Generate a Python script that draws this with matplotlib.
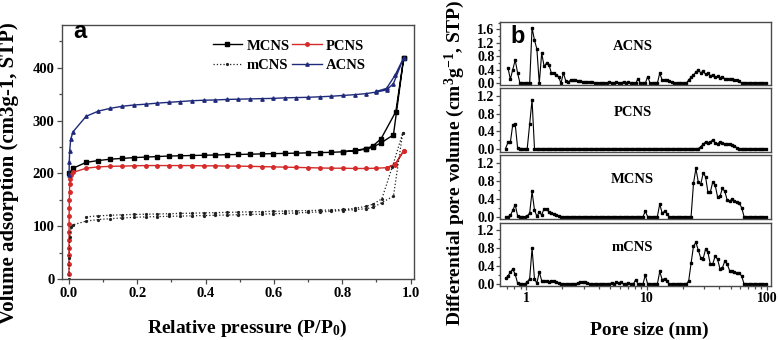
import numpy as np
import matplotlib
matplotlib.use("Agg")
import matplotlib.pyplot as plt
from matplotlib.ticker import MultipleLocator, FormatStrFormatter, LogLocator, NullFormatter

plt.rcParams['font.family'] = 'Liberation Serif'
plt.rcParams['font.weight'] = 'bold'
plt.rcParams['mathtext.fontset'] = 'custom'
plt.rcParams['mathtext.rm'] = 'Liberation Serif:bold'
plt.rcParams['mathtext.it'] = 'Liberation Serif:italic:bold'
plt.rcParams['mathtext.bf'] = 'Liberation Serif:bold'

# ---- (a) N2 isotherms: adsorption branch, then desorption branch ----
mcns_p_ads = [0.0005, 0.012, 0.05, 0.086, 0.12, 0.155, 0.19, 0.224, 0.258, 0.292, 0.326, 0.36, 0.394,
              0.428, 0.462, 0.496, 0.53, 0.564, 0.598, 0.632, 0.666, 0.70, 0.734, 0.768, 0.802, 0.836,
              0.87, 0.89, 0.914, 0.95, 0.98]
mcns_v_ads = [200, 210, 221, 224.5, 227, 228.5, 230, 231, 232, 233, 233.5, 234, 234.5, 235, 235.5, 236,
              236.5, 237, 237.5, 238, 238.5, 239, 239.5, 240, 241, 243, 246, 250, 258, 273, 418]
mcns_p_des = [0.98, 0.957, 0.914, 0.89, 0.87, 0.836, 0.802]
mcns_v_des = [418, 317, 266, 252, 247, 243.5, 241]

acns_p_ads = [0.0002, 0.0008, 0.002, 0.005, 0.012, 0.05, 0.086, 0.12, 0.155, 0.19, 0.224, 0.258, 0.292,
              0.326, 0.36, 0.394, 0.428, 0.462, 0.496, 0.53, 0.564, 0.598, 0.632, 0.666, 0.70, 0.734,
              0.768, 0.802, 0.836, 0.87, 0.90, 0.93, 0.95, 0.98]
acns_v_ads = [198, 222, 242, 265, 279, 308, 318, 323, 327, 329.5, 331, 333, 334.5, 336, 337.5, 338.5,
              339, 340, 340.5, 341, 341.5, 342, 343, 343.5, 344, 345, 346, 347.5, 349, 351, 354, 358,
              370, 419]
acns_p_des = [0.98, 0.955, 0.93, 0.90]
acns_v_des = [419, 386, 361, 355]

pcns_p_ads = [0.00001, 0.00002, 0.00004, 0.00007, 0.0001, 0.0002, 0.0003, 0.0005, 0.0008, 0.001,
              0.0015, 0.002, 0.003, 0.005, 0.012, 0.05, 0.086, 0.12, 0.155, 0.19, 0.224, 0.258, 0.292,
              0.326, 0.36, 0.394, 0.428, 0.462, 0.496, 0.53, 0.564, 0.598, 0.632, 0.666, 0.70, 0.734,
              0.768, 0.802, 0.836, 0.87, 0.90, 0.93, 0.955, 0.98]
pcns_v_ads = [10, 28, 45, 60, 75, 90, 105, 120, 135, 150, 165, 180, 190, 197, 202, 210, 212.5, 213.5,
              214, 214.5, 215, 215, 215, 215, 215, 214.5, 214.5, 214, 214, 213.5, 213, 212.5, 212,
              211.5, 211, 210.5, 210, 210, 209.5, 209.5, 210, 211, 216, 243]
pcns_p_des = [0.98, 0.955, 0.93]
pcns_v_des = [243, 218, 211]

mcns2_p_ads = [0.00005, 0.0005, 0.002, 0.006, 0.012, 0.05, 0.086, 0.12, 0.155, 0.19, 0.224, 0.258,
               0.292, 0.326, 0.36, 0.394, 0.428, 0.462, 0.496, 0.53, 0.564, 0.598, 0.632, 0.666, 0.70,
               0.734, 0.768, 0.802, 0.836, 0.87, 0.89, 0.916, 0.95, 0.977]
mcns2_v_ads = [0, 40, 80, 98, 103, 110, 113, 114.5, 116, 117, 118, 118.5, 119, 119.5, 120, 120.5, 121,
               121.5, 122, 122.5, 123, 124, 124.5, 125.5, 126.5, 127.5, 128.5, 130, 131.5, 133.5, 136,
               145, 157, 276]
mcns2_p_des = [0.977, 0.947, 0.916, 0.89, 0.87, 0.836, 0.802, 0.768, 0.734, 0.70, 0.666, 0.632, 0.598,
               0.564, 0.53, 0.496, 0.462, 0.428, 0.394, 0.36, 0.326, 0.292, 0.258, 0.224, 0.19, 0.155,
               0.12, 0.086, 0.05]
mcns2_v_des = [276, 213, 152, 142, 138, 134, 132, 131, 130.5, 130, 129.5, 129, 128.5, 128, 127.5, 127,
               126.5, 126, 125.5, 125, 124.5, 124, 123.5, 123, 122.5, 122, 121, 120, 118]

# ---- (b) pore size distributions ----
pore_nm = [0.676, 0.708, 0.741, 0.776, 0.813, 0.851, 0.891, 0.933, 0.977, 1.023,
           1.072, 1.122, 1.175, 1.230, 1.288, 1.349, 1.413, 1.479, 1.549, 1.622,
           1.698, 1.778, 1.862, 1.950, 2.042, 2.138, 2.239, 2.344, 2.455, 2.570,
           2.692, 2.818, 2.951, 3.090, 3.236, 3.388, 3.548, 3.715, 3.890, 4.074,
           4.266, 4.467, 4.677, 4.898, 5.129, 5.370, 5.623, 5.888, 6.166, 6.457,
           6.761, 7.079, 7.413, 7.762, 8.128, 8.511, 8.913, 9.333, 9.772, 10.23,
           10.72, 11.22, 11.75, 12.30, 12.88, 13.49, 14.13, 14.79, 15.49, 16.22,
           16.98, 17.78, 18.62, 19.50, 20.42, 21.38, 22.39, 23.44, 24.55, 25.70,
           26.92, 28.18, 29.51, 30.90, 32.36, 33.88, 35.48, 37.15, 38.90, 40.74,
           42.66, 44.67, 46.77, 48.98, 51.29, 53.70, 56.23, 58.88, 61.66, 64.57,
           67.61, 70.79, 74.13, 77.62, 81.28, 85.11, 89.13, 93.33, 97.72]

acns_psd = [np.nan, 0.46, 0.12, 0.41, 0.69, 0.31, 0, 0, 0, 0,
            0, 1.65, 1.28, 1.02, 0, 0.90, 0.50, 0.60, 0.55, 0.31,
            0.30, 0.25, 0.20, 0, 0.31, 0.07, 0.03, 0.10, 0.10, 0.09,
            0.08, 0.06, 0.05, 0.04, 0.04, 0.03, 0.03, 0.02, 0.01, 0,
            0, 0, 0, 0.05, 0.02, 0, 0.04, 0, 0, 0.05,
            0.02, 0.03, 0, 0, 0, 0.14, 0, 0, 0, 0.20,
            0, 0, 0, 0, 0.30, 0.10, 0.10, 0.09, 0.07, 0.03,
            0, 0, 0, 0, 0, 0, 0.10, 0.18, 0.25, 0.33,
            0.40, 0.31, 0.36, 0.27, 0.30, 0.22, 0.25, 0.18, 0.21, 0.16,
            0.18, 0.14, 0.14, 0.13, 0.12, 0.11, 0.10, 0.07, 0, 0,
            0, 0, 0, 0, 0, 0, 0, 0, 0]
pcns_psd = [0, 0.14, 0.14, 0.55, 0.56, 0.02, 0, 0, 0, 0,
            0.56, 1.12, 0, 0, 0, 0, 0, 0, 0, 0,
            0, 0, 0, 0, 0, 0, 0, 0, 0, 0,
            0, 0, 0, 0, 0, 0, 0, 0, 0, 0,
            0, 0, 0, 0, 0, 0, 0, 0, 0, 0,
            0, 0, 0, 0, 0, 0, 0, 0, 0, 0,
            0, 0, 0, 0, 0, 0, 0, 0, 0, 0,
            0, 0, 0, 0, 0, 0, 0, 0, 0, 0,
            0, 0.04, 0.10, 0.15, 0.13, 0.15, 0.20, 0.13, 0.11, 0.15,
            0.12, 0.11, 0.10, 0.10, 0.08, 0.06, 0.02, 0, 0, 0,
            0, 0, 0, 0, 0, 0, 0, 0, 0]
mcns_psd = [0, 0, 0.03, 0.14, 0.27, 0.02, 0, 0, 0, 0.02,
            0.08, 0.56, 0.15, 0.01, 0.10, 0.04, 0.18, 0.18, 0.10, 0.08,
            0.07, 0.04, 0.01, 0, 0, 0, 0, 0, 0, 0,
            0, 0, 0, 0, 0, 0, 0, 0, 0, 0,
            0, 0, 0, 0, 0, 0, 0, 0, 0, 0,
            0, 0, 0, 0, 0, 0, 0, 0, 0.12, 0,
            0, 0, 0, 0, 0.28, 0.08, 0.12, 0.07, 0, 0,
            0, 0, 0, 0, 0, 0, 0, 0, 0.74, 1.07,
            0.77, 0.72, 0.96, 0.89, 0.54, 0.55, 0.77, 0.70, 0.44, 0.45,
            0.63, 0.56, 0.37, 0.35, 0.39, 0.34, 0.32, 0.30, 0.20, 0,
            0, 0, 0, 0, 0, 0, 0, 0, 0]
mcns2_psd = [0.13, 0.18, 0.27, 0.33, 0.22, 0.02, 0, 0, 0, 0.05,
             0.12, 0.79, 0.12, 0.02, 0.27, 0.08, 0.07, 0.07, 0.05, 0.08,
             0.07, 0.04, 0.02, 0, 0, 0, 0, 0, 0, 0,
             0.03, 0.04, 0.04, 0.04, 0.03, 0, 0, 0, 0, 0,
             0, 0, 0, 0, 0.03, 0, 0.05, 0.02, 0.04, 0,
             0, 0.03, 0, 0, 0.10, 0, 0, 0, 0.20, 0,
             0, 0, 0, 0, 0.28, 0.10, 0.12, 0.07, 0, 0,
             0, 0, 0, 0, 0, 0, 0.07, 0.46, 0.84, 0.92,
             0.75, 0.58, 0.56, 0.77, 0.70, 0.44, 0.45, 0.62, 0.55, 0.34,
             0.36, 0.51, 0.44, 0.30, 0.29, 0.26, 0.25, 0.24, 0.18, 0,
             0, 0, 0, 0, 0, 0, 0, 0, 0]

W, H = 778, 340
fig = plt.figure(figsize=(W / 100, H / 100), dpi=100)
edge = '#4a4a4a'


def box(left, top, right, bottom):
    return [left / W, 1 - bottom / H, (right - left) / W, (bottom - top) / H]


# ---------------- panel a ----------------
ax = fig.add_axes(box(62, 25, 414, 279.3))
l1, = ax.plot(mcns_p_ads + mcns_p_des, mcns_v_ads + mcns_v_des, '-', color='black', lw=1.0,
              marker='s', ms=2.4, label='MCNS')
l3, = ax.plot(pcns_p_ads + pcns_p_des, pcns_v_ads + pcns_v_des, '-', color='#d42a2a', lw=1.0,
              marker='o', ms=2.5, label='PCNS')
l2, = ax.plot(mcns2_p_ads + mcns2_p_des, mcns2_v_ads + mcns2_v_des, ':', color='#222222', lw=0.9,
              marker='o', ms=1.3, label='mCNS')
l4, = ax.plot(acns_p_ads + acns_p_des, acns_v_ads + acns_v_des, '-', color='#1f2a7a', lw=1.0,
              marker='^', ms=2.4, label='ACNS')
ax.set_xlim(-0.0205, 1.0102)
ax.set_ylim(0, 480.7)
ax.xaxis.set_major_locator(MultipleLocator(0.2))
ax.xaxis.set_minor_locator(MultipleLocator(0.1))
ax.yaxis.set_major_locator(MultipleLocator(100))
ax.yaxis.set_minor_locator(MultipleLocator(50))
ax.xaxis.set_major_formatter(FormatStrFormatter('%.1f'))
ax.tick_params(which='both', direction='out', top=False, right=False, colors=edge,
               labelcolor='black', labelsize=10.5, pad=2)
ax.tick_params(which='major', length=3.5, width=0.9)
ax.tick_params(which='minor', length=2, width=0.9)
for s in ax.spines.values():
    s.set_color(edge)
    s.set_linewidth(1.0)
ax.legend(handles=[l1, l2, l3, l4], ncol=2, loc='upper left', bbox_to_anchor=(0.42, 0.955),
          frameon=False, fontsize=10.5, handlelength=2.0, handletextpad=0.3, columnspacing=0.2,
          labelspacing=0.45, borderpad=0.2, borderaxespad=0)
ax.text(0.032, 0.948, 'a', transform=ax.transAxes, fontsize=17, fontweight='bold',
        family='Liberation Sans', va='baseline', ha='left')
fig.text(247 / W, 1 - 328 / H, 'Relative pressure (P/P$_0$)', ha='center', va='center', fontsize=14)
fig.text(9 / W, 1 - 173 / H, 'Volume adsorption (cm3g-1, STP)', ha='center', va='center',
         rotation=90, fontsize=15)

# ---------------- panel b ----------------
names_b = ['ACNS', 'PCNS', 'MCNS', 'mCNS']
psd_b = [acns_psd, pcns_psd, mcns_psd, mcns2_psd]
rows_b = [(22, 85), (88, 152), (154.5, 219), (223, 286)]
ylims_b = [(-0.05, 1.82), (-0.08, 1.39), (-0.05, 1.38), (-0.04, 1.35)]
for k in range(4):
    axb = fig.add_axes(box(500, rows_b[k][0], 771, rows_b[k][1]))
    axb.plot(pore_nm, psd_b[k], '-', color='black', lw=0.8, marker='s', ms=1.7)
    axb.set_xscale('log')
    axb.set_xlim(0.608, 108)
    axb.set_ylim(*ylims_b[k])
    axb.yaxis.set_major_locator(MultipleLocator(0.4))
    axb.yaxis.set_minor_locator(MultipleLocator(0.2))
    axb.yaxis.set_major_formatter(FormatStrFormatter('%.1f'))
    axb.set_xticks([1, 10, 100])
    axb.set_xticklabels(['1', '10', '100'])
    axb.xaxis.set_minor_locator(LogLocator(base=10, subs=np.arange(2, 10)))
    axb.xaxis.set_minor_formatter(NullFormatter())
    axb.tick_params(which='both', direction='out', top=False, right=False, colors=edge,
                    labelcolor='black', labelsize=10, pad=1)
    axb.tick_params(which='major', length=3, width=0.9)
    axb.tick_params(which='minor', length=1.8, width=0.9)
    if k < 3:
        axb.tick_params(axis='x', which='both', bottom=False, labelbottom=False)
    else:
        axb.tick_params(axis='x', labelsize=10)
    for s in axb.spines.values():
        s.set_color(edge)
        s.set_linewidth(1.0)
    axb.text(0.49, 0.61, names_b[k], transform=axb.transAxes, ha='center', va='center', fontsize=10.5)
    if k == 0:
        axb.text(0.037, 0.66, 'b', transform=axb.transAxes, fontsize=17, fontweight='bold',
                 family='Liberation Sans', va='baseline', ha='left')

fig.text(649 / W, 1 - 330 / H, 'Pore size (nm)', ha='center', va='center', fontsize=14)
fig.text(455 / W, 1 - 163 / H, 'Differential pore volume (cm$^3$g$^{-1}$, STP)', ha='center',
         va='center', rotation=90, fontsize=14)

fig.savefig('out.png', dpi=100)
